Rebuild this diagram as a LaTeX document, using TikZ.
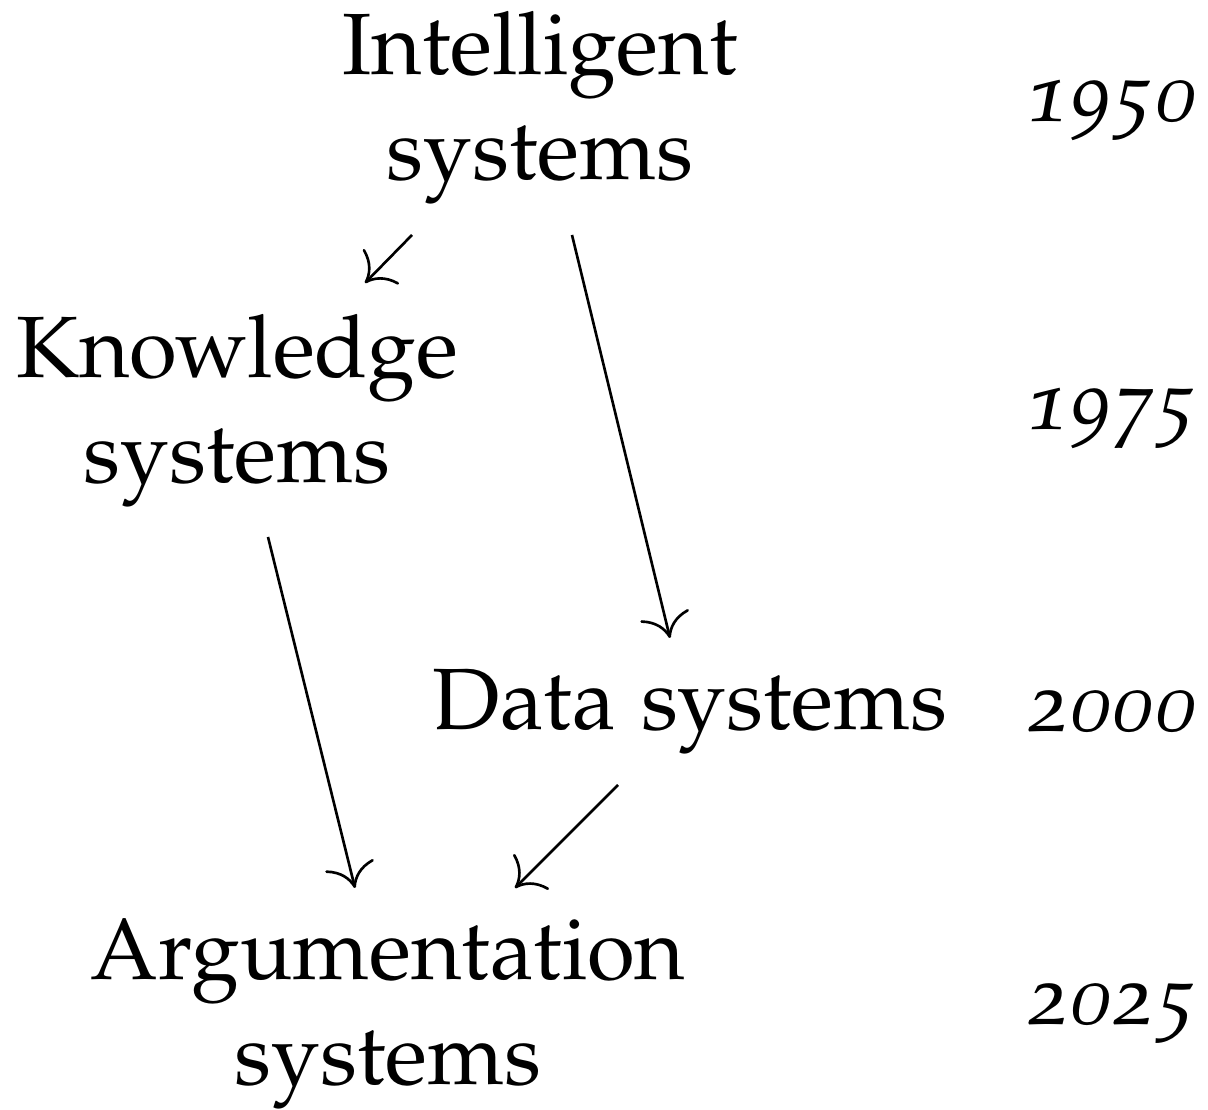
\documentclass[tikz,border=0pt]{standalone}
\usepackage[T1]{fontenc}
\usepackage[osf]{mathpazo}
\usetikzlibrary{calc,arrows.meta}
\begin{document}
\begin{tikzpicture}[x=0.01cm,y=-0.01cm,
  lab/.style={anchor=base,align=center,inner sep=0pt,font=\fontsize{24.75}{29.9}\selectfont},
  yr/.style={anchor=base east,inner sep=0pt,font=\fontsize{24.3}{29.9}\selectfont\itshape},
  arr/.style={-{To[length=2.4mm,width=5mm]},line width=0.75pt}]
\useasboundingbox (0,0) rectangle (1208,1110);
\node[lab] (int) at (540,180) {Intelligent\\systems};
\node[lab] (know) at (237,483) {Knowledge\\systems};
\node[lab] (data) at (690,730) {Data systems};
\node[lab] (arg) at (388,1085) {Argumentation\\systems};
\node[yr] (y1) at (1199,122) {1950};
\node[yr] (y2) at (1199,430) {1975};
\node[yr] (y3) at (1199,732) {2000};
\node[yr] (y4) at (1199,1025) {2025};
\draw[arr] ($(int.base)+(-128,55)$) -- ($(know.base)+(128,-200)$);
\draw[arr] ($(int.base)+(32,55)$) -- ($(data.base)+(-20,-92)$);
\draw[arr] ($(know.base)+(31,54)$) -- ($(arg.base)+(-33,-197)$);
\draw[arr] ($(data.base)+(-72,55)$) -- ($(arg.base)+(127,-197)$);
\end{tikzpicture}
\end{document}
